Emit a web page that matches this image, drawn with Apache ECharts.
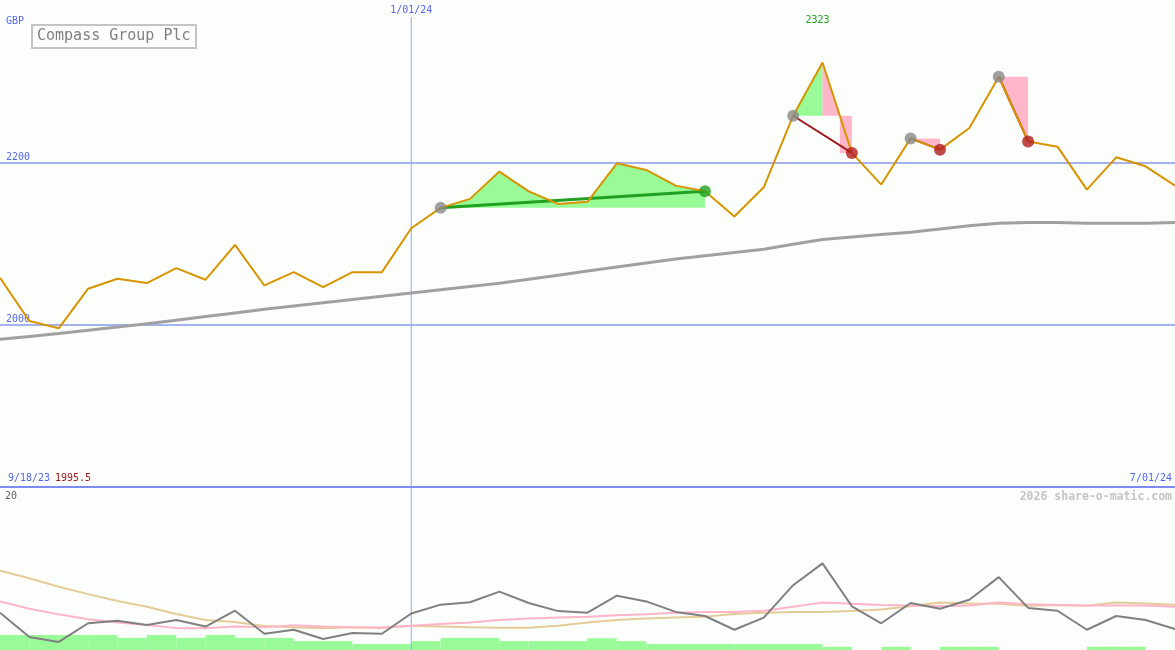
<!DOCTYPE html>
<html><head><meta charset="utf-8">
<script src="https://cdn.jsdelivr.net/npm/echarts@6/dist/echarts.min.js"></script>
<style>html,body{margin:0;padding:0;background:#fcfefc}#c{width:1175px;height:650px}</style>
</head><body><div id="c"></div>
<script>
// ---- data (weekly points, index 0 .. 40) ----
const price = [2057.8, 2004.4, 1995.5, 2044.3, 2056.6, 2051.2, 2069.6, 2055.4, 2098.4, 2048.3, 2064.7,
  2046.2, 2064.7, 2064.7, 2118.8, 2143.9, 2155.0, 2188.6, 2164.3, 2148.8, 2151.3,
  2198.8, 2190.6, 2171.3, 2164.3, 2133.2, 2169.2, 2257.4, 2323.0, 2211.6, 2172.6,
  2229.5, 2215.6, 2242.3, 2305.4, 2225.8, 2219.3, 2166.4, 2206.2, 2195.1, 2171.3];
const movingAvg = [1982, 1985.5, 1989, 1993, 1997, 2001, 2005.5, 2010, 2014.5, 2019, 2023,
  2027, 2031, 2035, 2039, 2043, 2047, 2051, 2056, 2061, 2066,
  2071, 2076, 2081, 2085, 2089, 2093, 2099, 2105, 2108, 2111,
  2114, 2118, 2122, 2125, 2126, 2126, 2125, 2125, 2125, 2126];
const osc = [4.6, 1.6, 1.0, 3.3, 3.6, 3.1, 3.7, 2.9, 4.85, 2.0, 2.5,
  1.35, 2.1, 2.0, 4.5, 5.6, 5.9, 7.2, 5.8, 4.8, 4.6,
  6.7, 6.0, 4.7, 4.2, 2.5, 4.0, 8.0, 10.7, 5.4, 3.3,
  5.8, 5.1, 6.2, 9.0, 5.2, 4.85, 2.5, 4.2, 3.7, 2.6];
const oscFast = [6.0, 5.1, 4.4, 3.8, 3.4, 3.1, 2.7, 2.7, 2.9, 2.8, 3.05,
  2.9, 2.8, 2.75, 3.0, 3.2, 3.4, 3.7, 3.9, 4.0, 4.1,
  4.3, 4.4, 4.6, 4.7, 4.7, 4.85, 5.35, 5.85, 5.7, 5.55,
  5.5, 5.4, 5.5, 5.85, 5.65, 5.55, 5.5, 5.5, 5.5, 5.35];
const oscSlow = [9.8, 8.85, 7.8, 6.9, 6.05, 5.35, 4.45, 3.7, 3.45, 2.95, 2.8,
  2.7, 2.8, 2.75, 3.0, 2.9, 2.8, 2.75, 2.75, 3.0, 3.4,
  3.7, 3.9, 4.0, 4.1, 4.45, 4.6, 4.7, 4.7, 4.8, 5.0,
  5.4, 5.85, 5.75, 5.7, 5.45, 5.55, 5.45, 5.85, 5.75, 5.6];
// one bar per interval [i, i+1]
const volBars = [1.85, 1.85, 1.85, 1.85, 1.5, 1.85, 1.5, 1.85, 1.5, 1.5,
  1.1, 1.1, 0.75, 0.75, 1.1, 1.5, 1.5, 1.1, 1.1, 1.1,
  1.45, 1.1, 0.75, 0.75, 0.75, 0.75, 0.75, 0.75, 0.4, 0,
  0.4, 0, 0.4, 0.4, 0, 0, 0, 0.4, 0.4, 0];
const trades = [
  {from: 15, to: 24, win: true},
  {from: 27, to: 29, win: false},
  {from: 31, to: 32, win: false},
  {from: 34, to: 35, win: false}
];
const dateLabels = ['9/18/23', '1/01/24', '7/01/24'];
const dateMarkIndex = 14;
const priceTicks = [2000, 2200];
const oscTicks = [0, 20];
const title = 'Compass Group Plc';
const currency = 'GBP';
const watermark = '2026 share-o-matic.com';

// ---- derived ----
const N = price.length - 1;
const GREEN = '#98fb98', PINK = '#ffb6c9';
const segColor = (t, j) => (t.win || price[j + 1] >= price[j]) ? GREEN : PINK;
const polys = [];
trades.forEach(t => {
  const L = price[t.from];
  let cur = null;
  for (let j = t.from; j < t.to; j++) {
    const col = segColor(t, j), a = price[j], b = price[j + 1];
    if (a > L && b < L) {
      if (cur) { cur.pts.push([j, L]); polys.push(cur); cur = null; }
      const xc = j + (a - L) / (a - b);
      polys.push({col, pts: [[j, a], [xc, L], [xc, b], [j + 1, b], [j + 1, L], [j, L]]});
      continue;
    }
    if (!cur || cur.col !== col) {
      if (cur) { cur.pts.push([j, L]); polys.push(cur); }
      cur = {col, pts: [[j, L], [j, a]]};
    }
    cur.pts.push([j + 1, b]);
  }
  if (cur) { cur.pts.push([t.to, L]); polys.push(cur); }
});
const minPrice = Math.min(...price);
const F = 'DejaVu Sans Mono';
const BLUE_TXT = '#5566ee';
const VLINE = '#93a5fb';

const connectors = trades.map(t => ({
  type: 'line', xAxisIndex: 0, yAxisIndex: 0, silent: true, symbol: 'none', z: 3,
  data: [[t.from, price[t.from]], [t.to, price[t.to]]],
  lineStyle: {color: t.win ? '#22a022' : '#a01c1c', width: t.win ? 3 : 2}
}));
const dot = (idx, color) => ({
  type: 'scatter', xAxisIndex: 0, yAxisIndex: 0, silent: true, z: 6,
  symbolSize: 12, itemStyle: {color},
  data: idx.map(i => [i, price[i]])
});

const chart = echarts.init(document.getElementById('c'), null, {renderer: 'canvas'});
chart.setOption({
  animation: false,
  backgroundColor: '#fcfefc',
  title: {
    text: title, left: 32, top: 25, borderColor: '#c4c4c4', borderWidth: 2,
    padding: [4, 6, 4, 5],
    textStyle: {fontFamily: F, fontSize: 15, fontWeight: 'normal', color: '#808080'}
  },
  grid: [
    {left: 0, right: 0, top: -2, height: 489},
    {left: 0, right: 0, top: 488, height: 162}
  ],
  xAxis: [
    {type: 'value', gridIndex: 0, min: 0, max: N, show: true, splitLine: {show: false},
     axisTick: {show: false}, axisLabel: {show: false},
     axisLine: {show: true, lineStyle: {color: '#7d8cf0', width: 2}}},
    {type: 'value', gridIndex: 1, min: 0, max: N, show: false, splitLine: {show: false}}
  ],
  yAxis: [
    {type: 'value', gridIndex: 0, min: 1800, max: 2400, interval: 200,
     axisLine: {show: false}, axisTick: {show: false},
     splitLine: {show: true, showMinLine: false, showMaxLine: false, lineStyle: {color: '#a4b2f2', width: 2}},
     axisLabel: {inside: true, margin: 6, verticalAlign: 'bottom', padding: [0, 0, 0, 0],
       color: BLUE_TXT, fontFamily: F, fontSize: 10,
       formatter: v => priceTicks.includes(v) ? String(v) : ''}},
    {type: 'value', gridIndex: 1, min: oscTicks[0], max: oscTicks[1], show: false, splitLine: {show: false}}
  ],
  graphic: [
    {type: 'text', left: 6, top: 16, style: {text: currency, fill: BLUE_TXT, font: '10px ' + F}},
    {type: 'text', left: 8, top: 473, style: {text: dateLabels[0], fill: BLUE_TXT, font: '10px ' + F}},
    {type: 'text', left: 55, top: 473, style: {text: String(minPrice), fill: '#a01c1c', font: '10px ' + F}},
    {type: 'text', right: 3, top: 473, style: {text: dateLabels[2], fill: BLUE_TXT, font: '10px ' + F}},
    {type: 'text', left: 5, top: 491, style: {text: String(oscTicks[1]), fill: '#606060', font: '10px ' + F}},
    {type: 'text', left: 5, top: 636, style: {text: String(oscTicks[0]), fill: '#606060', font: '10px ' + F}},
    {type: 'text', right: 3, top: 491, style: {text: watermark, fill: '#c4c4c4', font: 'bold 11.5px ' + F}}
  ],
  series: [
    {
      type: 'custom', xAxisIndex: 0, yAxisIndex: 0, silent: true, z: 1,
      data: polys.map((p, i) => [p.pts[0][0], p.pts[0][1], i]),
      renderItem: (params, api) => {
        const p = polys[params.dataIndex];
        return {type: 'polygon', shape: {points: p.pts.map(q => api.coord(q))}, style: {fill: p.col}};
      }
    },
    // date marker line (upper panel)
    {
      type: 'line', xAxisIndex: 0, yAxisIndex: 0, silent: true, symbol: 'none', z: 1,
      data: [[dateMarkIndex, 1800], [dateMarkIndex, 2379]],
      lineStyle: {color: VLINE, width: 1}, itemStyle: {color: VLINE},
      endLabel: {show: true, formatter: dateLabels[1], color: BLUE_TXT, fontFamily: F, fontSize: 10,
        align: 'center', verticalAlign: 'bottom', offset: [0, -2], distance: 0}
    },
    // date marker line (lower panel)
    {
      type: 'line', xAxisIndex: 1, yAxisIndex: 1, silent: true, symbol: 'none', z: 1,
      data: [[dateMarkIndex, oscTicks[0]], [dateMarkIndex, oscTicks[1]]],
      lineStyle: {color: VLINE, width: 1}, itemStyle: {color: VLINE}
    },
    ...connectors,
    {
      type: 'line', xAxisIndex: 0, yAxisIndex: 0, silent: true, symbol: 'none', z: 2,
      data: movingAvg.map((v, i) => [i, v]),
      lineStyle: {color: '#a0a0a0', width: 3}
    },
    {
      type: 'line', xAxisIndex: 0, yAxisIndex: 0, silent: true, symbol: 'none', z: 4,
      data: price.map((v, i) => [i, v]),
      lineStyle: {color: '#d89400', width: 2},
      markPoint: {
        symbol: 'circle', symbolSize: 0, silent: true,
        data: [{type: 'max'}],
        label: {show: true, position: 'top', offset: [-5, -32], color: '#22a022',
          fontFamily: F, fontSize: 10, formatter: p => String(p.value)}
      }
    },
    dot(trades.map(t => t.from), '#888888'),
    dot(trades.filter(t => t.win).map(t => t.to), '#22a022'),
    dot(trades.filter(t => !t.win).map(t => t.to), '#b01c1c'),
    // lower panel
    {
      type: 'custom', xAxisIndex: 1, yAxisIndex: 1, silent: true, z: 1,
      data: volBars.map((v, i) => [i, v]),
      renderItem: (params, api) => {
        const i = api.value(0), v = api.value(1);
        if (!v) return null;
        const a = api.coord([i, v]), b = api.coord([i + 1, 0]);
        return {type: 'rect', shape: {x: a[0], y: a[1], width: b[0] - a[0], height: b[1] - a[1]}, style: {fill: GREEN}};
      }
    },
    {
      type: 'line', xAxisIndex: 1, yAxisIndex: 1, silent: true, symbol: 'none', z: 2,
      data: oscSlow.map((v, i) => [i, v]), lineStyle: {color: '#e4cc98', width: 2}
    },
    {
      type: 'line', xAxisIndex: 1, yAxisIndex: 1, silent: true, symbol: 'none', z: 3,
      data: oscFast.map((v, i) => [i, v]), lineStyle: {color: '#ffb4c8', width: 2}
    },
    {
      type: 'line', xAxisIndex: 1, yAxisIndex: 1, silent: true, symbol: 'none', z: 4,
      data: osc.map((v, i) => [i, v]), lineStyle: {color: '#808080', width: 2}
    }
  ]
});
</script>
</body></html>
